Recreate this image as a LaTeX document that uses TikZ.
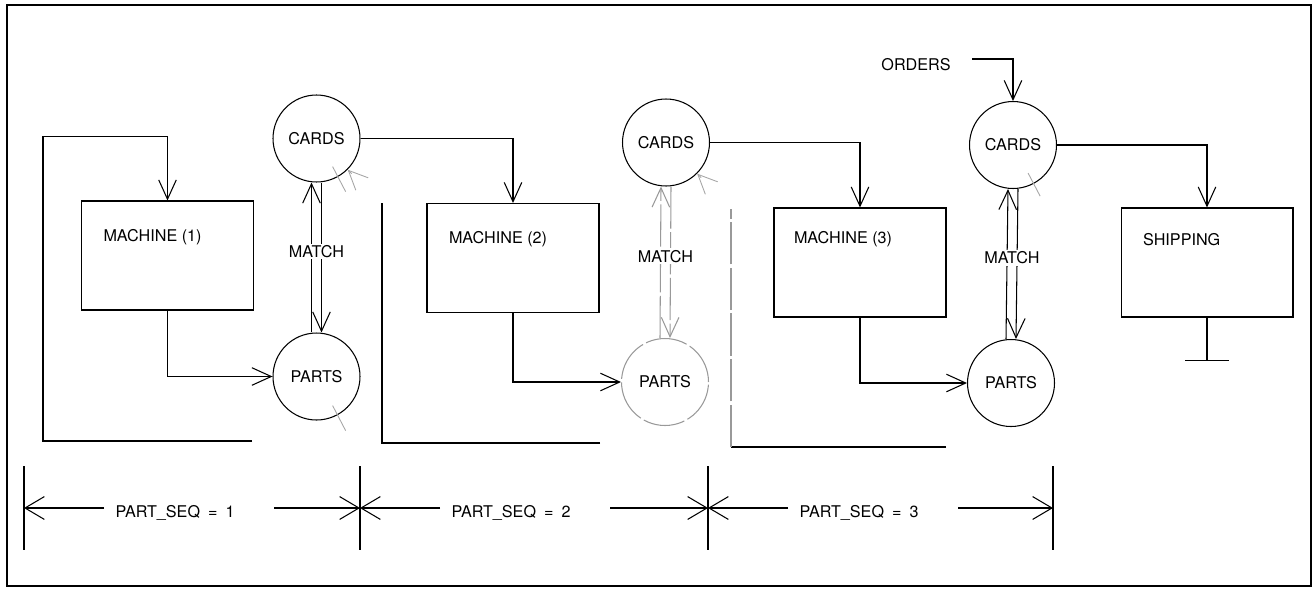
\documentclass[tikz,border=0pt]{standalone}
\usepackage{fontspec}
\setmainfont{TeX Gyre Heros}
\usetikzlibrary{arrows.meta, positioning, calc}

\begin{document}
\begin{tikzpicture}[
    x=0.02cm, y=-0.02cm, line width=0.6pt,
    every node/.style={font=\fontsize{9.2}{11}\selectfont},
    proc/.style={draw, minimum width=3.44cm, minimum height=2.18cm, inner sep=0pt},
    store/.style={draw, circle, minimum size=1.74cm, inner sep=0pt},
    lbl/.style={inner sep=0pt},
    arrow/.style={-{Straight Barb[length=11pt, width=10pt]}},
    dimarrow/.style={-{Straight Barb[length=11pt, width=13pt]}},
    frag/.style={draw=gray!70, line width=0.5pt},
    faded/.style={draw=gray!80, dash pattern=on 24pt off 2pt}
]
\useasboundingbox (0,0) rectangle (1315,589);
\draw[line width=1.3pt] (7,5) rectangle (1311,586);

% machines and shipping
\node[proc] (m1)   at (167.5,255.5) {};
\node[proc] (m2)   at (513,258) {};
\node[proc] (m3)   at (860,262.5) {};
\node[proc] (ship) at (1207,262.5) {};
\node[lbl, anchor=west] (m1txt)   at ($(m1.north west)+(22,37)$) {MACHINE (1)};
\node[lbl, anchor=west] (m2txt)   at ($(m2.north west)+(22,36)$) {MACHINE (2)};
\node[lbl, anchor=west] (m3txt)   at ($(m3.north west)+(20,32)$) {MACHINE (3)};
\node[lbl, anchor=west] (shiptxt) at ($(ship.north west)+(22,32)$) {SHIPPING};

% card and part stores
\node[store] (cards1) at (316.5,138.5) {CARDS};
\node[store] (parts1) at (316.5,376.5) {PARTS};
\node[store] (cards2) at (666,142.5) {CARDS};
\node[store, faded] (parts2) at (665,382) {PARTS};
\node[store] (cards3) at (1013,145) {CARDS};
\node[store] (parts3) at (1011,383) {PARTS};
\node[lbl] (orders) at (916,65) {ORDERS};

% flows
\coordinate (lp1) at (252,441);
\draw[arrow] (lp1) -- (43,441) |- ($(m1.north)+(0,-64)$) -- (m1.north);
\coordinate (lp2) at (600,443);
\draw (lp2) -- (382,443) -- (382,203);
\coordinate (lp3) at (946,447);
\draw (lp3) -- (731,447);
\draw[faded] (731,447) -- (731,209);
\draw[arrow] (m1.south) |- (parts1.west);
\draw[arrow] (cards1.east) -| (m2.north);
\draw[arrow] (m2.south) |- (parts2.west);
\draw[arrow] (cards2.east) -| (m3.north);
\draw[arrow] (m3.south) |- (parts3.west);
\draw[arrow] (cards3.east) -| (ship.north);
\draw[arrow] ($(orders.east)+(21,-6)$) -| (cards3.north);
\draw (ship.south) -- ++(0,43) coordinate (gnd);
\draw ($(gnd)+(-22,0)$) -- ($(gnd)+(22,0)$);

% match links
\foreach \i/\s in {1/solid, 2/faded, 3/solid} {
  \draw[arrow, \s] ([xshift=-0.1cm]parts\i.north) -- ([xshift=-0.1cm]cards\i.south);
  \draw[arrow, \s] ([xshift=0.1cm]cards\i.south) -- ([xshift=0.1cm]parts\i.north);
  \node[lbl, fill=white, inner sep=1pt] (match\i) at ($(cards\i.south)!0.5!(parts\i.north)+(0,-6)$) {MATCH};
}

% faint strokes
\draw[frag, arrow] ($(cards1.-45)+(4,4)$) -- (cards1.-45);
\draw[frag] ($(cards1.-45)+(-15,-3)$) -- ++(13,25);
\draw[frag] ($(parts1.-45)+(-15,-2)$) -- ++(13,25);
\draw[frag, arrow] ($(cards2.-45)+(4,4)$) -- (cards2.-45);
\draw[frag] ($(cards3.-45)+(-16,-3)$) -- ++(12,23);

% part sequence ranges
\coordinate (d0) at (24,508);
\coordinate (d1) at (360,508);
\coordinate (d2) at (708,508);
\coordinate (d3) at (1053,508);
\foreach \d in {d0,d1,d2,d3}
  \draw ($(\d)+(0,-42)$) -- ($(\d)+(0,42)$);
\foreach \a/\b/\n in {d0/d1/1, d1/d2/2, d2/d3/3} {
  \node[lbl, anchor=west] (seq\n) at ($(\a)+(91,5)$) {PART\_SEQ\enspace=\enspace\n};
  \draw[dimarrow] ($(seq\n.west |- \a)+(-11,0)$) -- (\a);
  \draw[dimarrow] ($(seq\n.west |- \a)+(159,0)$) -- (\b);
}
\end{tikzpicture}
\end{document}
